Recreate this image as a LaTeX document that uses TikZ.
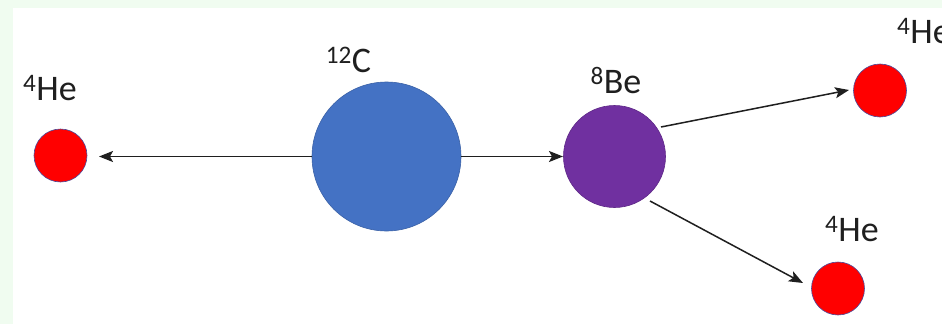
\documentclass[tikz,border=0pt]{standalone}
\usepackage{fontspec}
\setmainfont{Carlito}
\usetikzlibrary{arrows.meta}
\definecolor{bgGreen}{HTML}{F0FCF0}
\definecolor{cBlue}{HTML}{4472C4}
\definecolor{cPurple}{HTML}{7030A0}
\definecolor{cRed}{HTML}{FF0000}
\definecolor{cEdge}{HTML}{4A4A9A}
\begin{document}
\begin{tikzpicture}[x=1pt,y=-1pt,
  nucleus/.style={circle,inner sep=0pt,line width=0.6pt},
  alpha/.style={nucleus,fill=cRed,draw=cEdge,minimum size=53pt},
  lbl/.style={inner sep=0pt,font=\fontsize{36}{40}\selectfont,text=black!88},
  arr/.style={-{Stealth[length=14pt,width=11pt,inset=3pt]},line width=1.5pt,black!88}]
\useasboundingbox (0,0) rectangle (942,324);
\clip (0,0) rectangle (942,324);
\fill[bgGreen] (0,0) rectangle (942,324);
\fill[white] (13,8) rectangle (942,324);
% nuclei
\node[nucleus,fill=cBlue,draw=cBlue!85!black,minimum size=149pt] (c) at (386.5,156.5) {};
\node[nucleus,fill=cPurple,draw=cPurple!85!black,minimum size=102pt] (be) at (614.5,156.5) {};
\node[alpha] (he1) at (60.5,155.5) {};
\node[alpha] (he2) at (880,90.5) {};
\node[alpha] (he3) at (838,288.5) {};
% labels
\node[lbl] (lc) at (348.5,60) {\textsuperscript{12}C};
\node[lbl] (lbe) at (616,81) {\textsuperscript{8}Be};
\node[lbl] (lhe1) at (50,88) {\textsuperscript{4}He};
\node[lbl,anchor=west] (lhe2) at (897,31) {\textsuperscript{4}He};
\node[lbl] (lhe3) at (852,229) {\textsuperscript{4}He};
% connectors
\coordinate (t1) at (99,156.5);
\coordinate (t2) at (563,156.5);
\coordinate (s3) at (661,127);
\coordinate (t3) at (849,90);
\coordinate (s4) at (650,201);
\coordinate (t4) at (803,283);
\draw[arr] (c.west) -- (t1);
\draw[arr] (c.east) -- (t2);
\draw[arr] (s3) -- (t3);
\draw[arr] (s4) -- (t4);
\end{tikzpicture}
\end{document}
